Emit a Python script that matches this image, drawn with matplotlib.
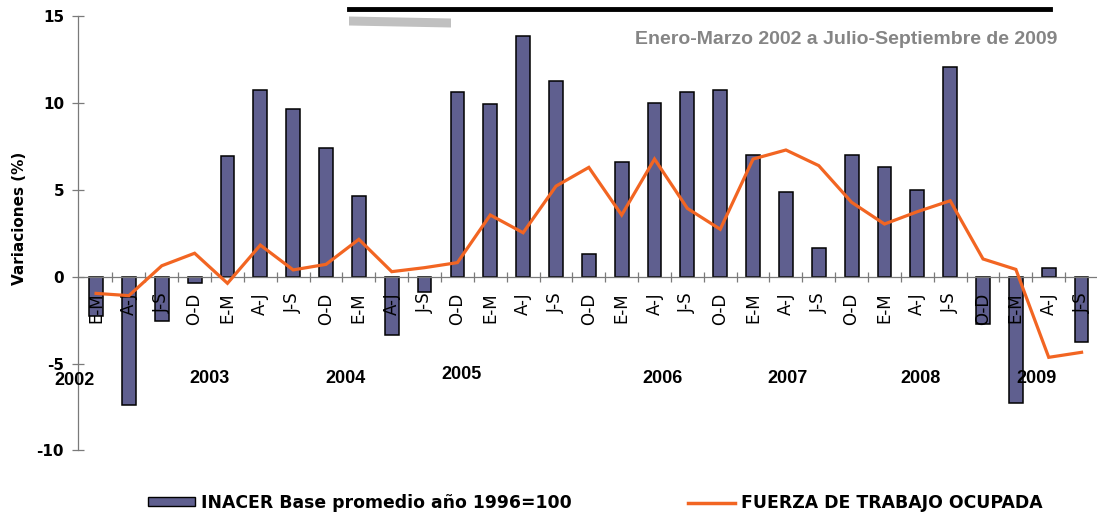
import matplotlib
matplotlib.use('Agg')
import matplotlib.pyplot as plt
from matplotlib.patches import Patch, Polygon
from matplotlib.lines import Line2D

# ---------------- data ----------------
quarters = ['E-M', 'A-J', 'J-S', 'O-D'] * 7 + ['E-M', 'A-J', 'J-S']
years = ['2002', '2003', '2004', '2005', '2006', '2007', '2008', '2009']
inacer = [-2.24, -7.38, -2.53, -0.38,
          6.95, 10.74, 9.63, 7.39,
          4.66, -3.36, -0.90, 10.63,
          9.92, 13.87, 11.24, 1.31,
          6.58, 10.01, 10.65, 10.74,
          7.00, 4.87, 1.63, 7.00,
          6.29, 4.97, 12.05, -2.74,
          -7.29, 0.52, -3.74]
fuerza = [-0.96, -1.09, 0.63, 1.35,
          -0.38, 1.82, 0.39, 0.71,
          2.15, 0.29, 0.52, 0.81,
          3.55, 2.53, 5.21, 6.29,
          3.55, 6.77, 3.93, 2.73,
          6.77, 7.29, 6.39, 4.28,
          3.03, 3.74, 4.37, 1.02,
          0.42, -4.64, -4.35]
series_names = ['INACER Base promedio año 1996=100', 'FUERZA DE TRABAJO OCUPADA']
title = 'Enero-Marzo 2002 a Julio-Septiembre de 2009'
ylabel = 'Variaciones (%)'

# layout of year labels (data coords)
year_x = [-0.65, 3.45, 7.58, 11.11, 17.25, 21.05, 25.09, 28.62]
year_y = [-5.95, -5.85, -5.85, -5.6, -5.85, -5.85, -5.85, -5.85]

BAR = '#5f5f8f'
ORANGE = '#f26522'
AXC = '#7a7a7a'

W, H = 1097, 516
fig = plt.figure(figsize=(W / 100, H / 100), dpi=100)
fig.patch.set_facecolor('white')

left_px, right_px = 78, 1098
top_px, bot_px = 16, 450.5
ax = fig.add_axes([left_px / W, 1 - bot_px / H, (right_px - left_px) / W, (bot_px - top_px) / H])
ax.set_axisbelow(False)

x = list(range(len(quarters)))
ax.bar(x, inacer, width=0.42, color=BAR, edgecolor='black', linewidth=1.1, zorder=2)
ax.plot(x, fuerza, color=ORANGE, linewidth=2.3, zorder=4, solid_joinstyle='miter')

ax.set_xlim(-0.55, 30.5)
ax.set_ylim(-10, 15)

for s in ['top', 'right']:
    ax.spines[s].set_visible(False)
ax.spines['bottom'].set_position(('data', 0))
for s in ['left', 'bottom']:
    ax.spines[s].set_color(AXC)
    ax.spines[s].set_linewidth(0.9)
    ax.spines[s].set_zorder(3)

ax.set_yticks([-10, -5, 0, 5, 10, 15])
ax.set_yticklabels(['-10', '-5', '0', '5', '10', '15'])
ax.tick_params(axis='y', direction='inout', length=8, width=0.9, color=AXC, pad=6,
               labelsize=11, labelcolor='black')
for t in ax.get_yticklabels():
    t.set_fontweight('bold')

ax.set_xticks([i + 0.5 for i in range(len(quarters) - 1)])
ax.set_xticklabels([])
ax.set_xticks(x, minor=True)
ax.set_xticklabels(quarters, minor=True, rotation=90)
ax.tick_params(axis='x', which='major', direction='inout', length=6.5, width=0.9, color=AXC)
ax.tick_params(axis='x', which='minor', length=0, pad=11.5, labelsize=12, labelcolor='black')

for yr, xx, yy in zip(years, year_x, year_y):
    ax.text(xx, yy, yr, ha='center', va='center', fontsize=13, fontweight='bold',
            family=['Liberation Sans', 'DejaVu Sans'], zorder=5)

fig.text(20 / W, 1 - 218 / H, ylabel, rotation=90, ha='center', va='center',
         fontsize=11, fontweight='bold')

# title and decorative header bars
fig.text(1057 / W, 1 - 39 / H, title, ha='right', va='center', color='#858585',
         fontsize=14, fontweight='bold', family=['Liberation Sans Narrow', 'Liberation Sans'])
fig.add_artist(Line2D([349 / W, 1050 / W], [1 - 9 / H, 1 - 9 / H], color='black',
                      linewidth=3.5, transform=fig.transFigure))
fig.add_artist(Polygon([(349 / W, 1 - 16.5 / H), (451 / W, 1 - 18.5 / H),
                        (451 / W, 1 - 27.5 / H), (349 / W, 1 - 25.5 / H)],
                       closed=True, facecolor='#c0c0c0', edgecolor='none',
                       transform=fig.transFigure))

# legends
h1 = Patch(facecolor=BAR, edgecolor='black', linewidth=1.0)
h2 = Line2D([], [], color=ORANGE, linewidth=2.5)
lkw = dict(frameon=False, handlelength=2.7, handleheight=0.42, handletextpad=0.35,
           borderpad=0, borderaxespad=0,
           prop={'weight': 'bold', 'size': 12.4})
fig.legend([h1], [series_names[0]], loc='center left',
           bbox_to_anchor=(148 / W, 1 - 503 / H), **lkw)
fig.legend([h2], [series_names[1]], loc='center left',
           bbox_to_anchor=(688 / W, 1 - 503 / H), **lkw)

fig.savefig('out.png', dpi=100)
